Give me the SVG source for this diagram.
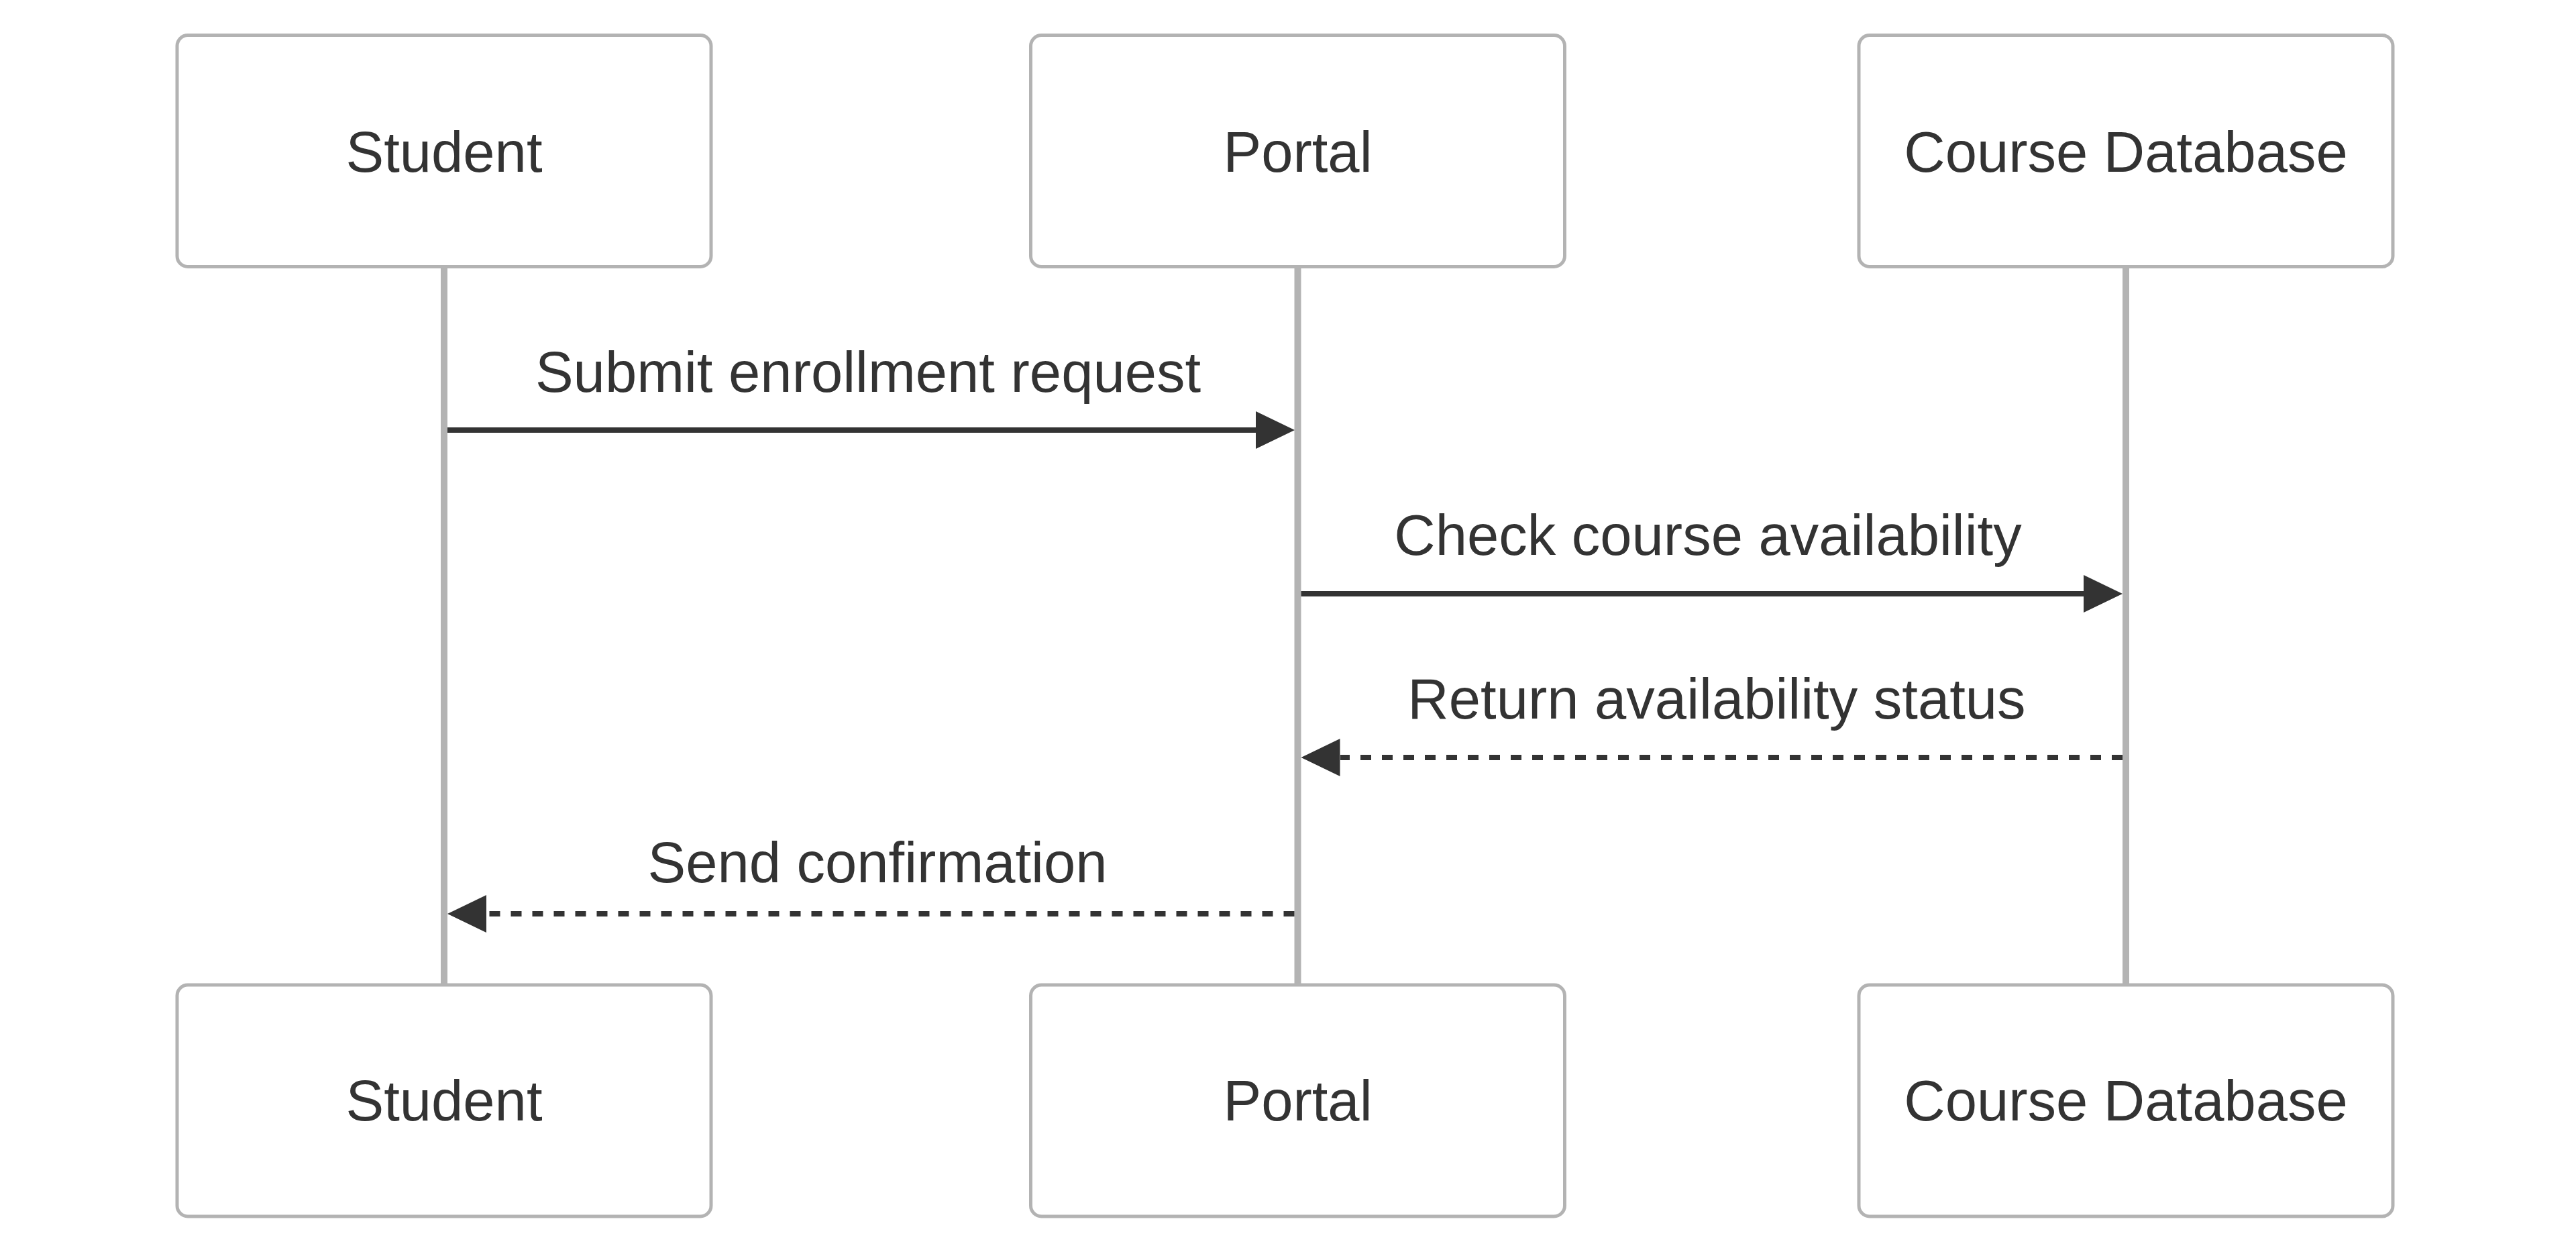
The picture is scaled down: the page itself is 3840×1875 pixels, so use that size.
<svg xmlns="http://www.w3.org/2000/svg" width="3840" height="1875" viewBox="0 0 3840 1875">
<style>
.box{fill:#ffffff;stroke:#b3b3b3;stroke-width:5}
.life{stroke:#b3b3b3;stroke-width:10}
.lbl{font-family:"Liberation Sans",Arial,sans-serif;font-size:85px;fill:#333333;text-anchor:middle}
.msg{stroke:#333333;stroke-width:8;fill:none}
.dash{stroke-dasharray:16 16}
.head{fill:#333333}
</style>
<rect width="3840" height="1875" fill="#ffffff"/>
<g id="lifelines">
<line class="life" x1="662" y1="398" x2="662" y2="1468"/>
<line class="life" x1="1934.5" y1="398" x2="1934.5" y2="1468"/>
<line class="life" x1="3169" y1="398" x2="3169" y2="1468"/>
</g>
<g id="student-top"><rect class="box" x="264" y="52.5" width="796" height="345" rx="16"/><text class="lbl" x="662" y="256">Student</text></g>
<g id="portal-top"><rect class="box" x="1536.5" y="52.5" width="796" height="345" rx="16"/><text class="lbl" x="1934.5" y="256">Portal</text></g>
<g id="db-top"><rect class="box" x="2771" y="52.5" width="796" height="345" rx="16"/><text class="lbl" x="3169" y="256">Course Database</text></g>
<g id="student-bottom"><rect class="box" x="264" y="1468" width="796" height="345" rx="16"/><text class="lbl" x="662" y="1670">Student</text></g>
<g id="portal-bottom"><rect class="box" x="1536.5" y="1468" width="796" height="345" rx="16"/><text class="lbl" x="1934.5" y="1670">Portal</text></g>
<g id="db-bottom"><rect class="box" x="2771" y="1468" width="796" height="345" rx="16"/><text class="lbl" x="3169" y="1670">Course Database</text></g>
<g id="connectors">
<g id="m1">
<text class="lbl" x="1294" y="584">Submit enrollment request</text>
<line class="msg" x1="667" y1="641" x2="1874" y2="641"/>
<polygon class="head" points="1930,641 1872,613 1872,669"/>
</g>
<g id="m2">
<text class="lbl" x="2546" y="827">Check course availability</text>
<line class="msg" x1="1939.5" y1="885" x2="3108" y2="885"/>
<polygon class="head" points="3164,885 3106,857 3106,913"/>
</g>
<g id="m3">
<text class="lbl" x="2559" y="1071">Return availability status</text>
<line class="msg dash" x1="3164" y1="1129" x2="1998" y2="1129"/>
<polygon class="head" points="1939.5,1129 1997.5,1101 1997.5,1157"/>
</g>
<g id="m4">
<text class="lbl" x="1308" y="1315">Send confirmation</text>
<line class="msg dash" x1="1929.5" y1="1362" x2="726" y2="1362"/>
<polygon class="head" points="667,1362 725,1334 725,1390"/>
</g>
</g>
</svg>
